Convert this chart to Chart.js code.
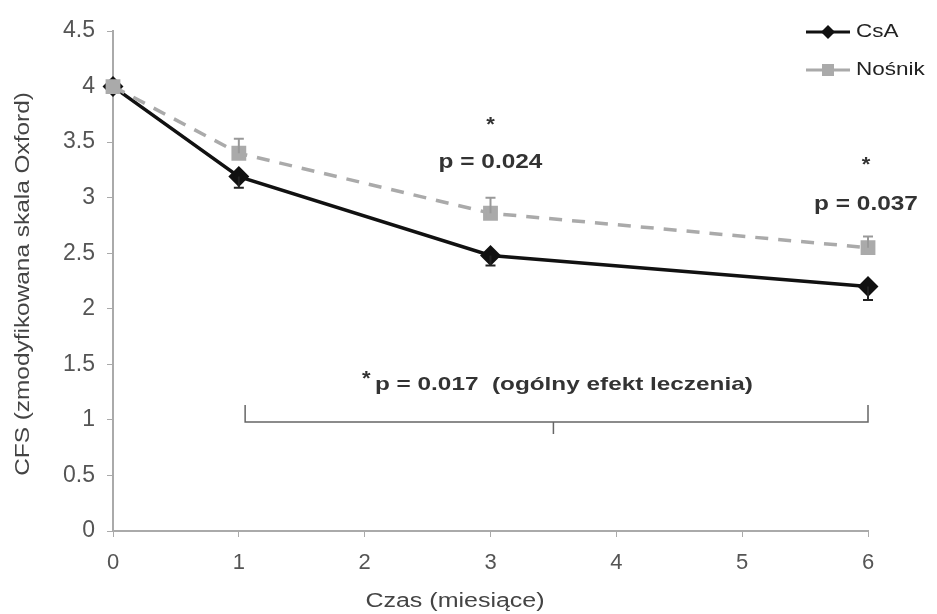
<!DOCTYPE html>
<html>
<head>
<meta charset="utf-8">
<script src="https://cdn.jsdelivr.net/npm/chart.js@4"></script>
<style>
  body { margin: 0; background: #fff; }
  #wrap { width: 937px; height: 614px; }
</style>
</head>
<body>
<div id="wrap"><canvas id="cfsChart" width="937" height="614"></canvas></div>
<script>
const months = [0, 1, 3, 6];
const csaValues = [4.0, 3.19, 2.48, 2.2];
const csaErrDown = [0, 0.1, 0.09, 0.12];
const vehicleValues = [4.0, 3.4, 2.86, 2.55];
const vehicleErrUp = [0, 0.13, 0.14, 0.1];
const yTicks = [0, 0.5, 1, 1.5, 2, 2.5, 3, 3.5, 4, 4.5];

const FONT = "'Liberation Sans', Arial, sans-serif";

// text drawn a bit wider, like the scanned original
function wideText(ctx, str, x, y, font, align, sx) {
  ctx.save();
  ctx.font = font;
  ctx.textAlign = align;
  ctx.translate(x, y);
  ctx.scale(sx, 1);
  ctx.fillText(str, 0, 0);
  ctx.restore();
}

// error bars: CsA downwards, vehicle upwards
const errorBars = {
  id: "errorBars",
  afterDatasetsDraw(chart) {
    const { ctx, scales: { x, y } } = chart;
    ctx.save();
    const bars = [
      { vals: vehicleValues, err: vehicleErrUp, dir: 1, color: "#999" },
      { vals: csaValues, err: csaErrDown, dir: -1, color: "#222" }
    ];
    bars.forEach(b => {
      ctx.strokeStyle = b.color;
      ctx.lineWidth = 2;
      months.forEach((m, i) => {
        if (!b.err[i]) return;
        const px = x.getPixelForValue(m);
        const p0 = y.getPixelForValue(b.vals[i]);
        const p1 = y.getPixelForValue(b.vals[i] + b.dir * b.err[i]);
        ctx.beginPath();
        ctx.moveTo(px, p0);
        ctx.lineTo(px, p1);
        ctx.moveTo(px - 5, p1);
        ctx.lineTo(px + 5, p1);
        ctx.stroke();
      });
    });
    ctx.restore();
  }
};

// texts, bracket, legend
const extras = {
  id: "extras",
  afterDraw(chart) {
    const { ctx, scales: { x, y } } = chart;
    ctx.save();
    ctx.textBaseline = "middle";

    // axis titles
    ctx.fillStyle = "#444";
    wideText(ctx, "Czas (miesiące)", 455, 601, "20px " + FONT, "center", 1.25);
    ctx.save();
    ctx.translate(23, 284);
    ctx.rotate(-Math.PI / 2);
    wideText(ctx, "CFS (zmodyfikowana skala Oxford)", 0, 0, "20px " + FONT, "center", 1.22);
    ctx.restore();

    // p values
    ctx.fillStyle = "#333";
    const bold = "bold 20px " + FONT;
    wideText(ctx, "*", x.getPixelForValue(3), 125, bold, "center", 1.1);
    wideText(ctx, "p = 0.024", x.getPixelForValue(3), 162, bold, "center", 1.22);
    wideText(ctx, "*", x.getPixelForValue(6) - 2, 165, bold, "center", 1.1);
    wideText(ctx, "p = 0.037", x.getPixelForValue(6) - 2, 204, bold, "center", 1.22);

    wideText(ctx, "*", 362, 379, bold, "left", 1.1);
    wideText(ctx, "p = 0.017  (ogólny efekt leczenia)", 375, 385, "bold 19px " + FONT, "left", 1.28);

    // bracket
    const bx0 = x.getPixelForValue(1.05), bx1 = x.getPixelForValue(6);
    const bm = x.getPixelForValue(3.5), by = 422;
    ctx.strokeStyle = "#666";
    ctx.lineWidth = 1.5;
    ctx.beginPath();
    ctx.moveTo(bx0, by - 17); ctx.lineTo(bx0, by); ctx.lineTo(bx1, by); ctx.lineTo(bx1, by - 17);
    ctx.moveTo(bm, by); ctx.lineTo(bm, by + 12);
    ctx.stroke();

    // legend
    const items = [
      { label: "CsA", y: 32, ds: chart.data.datasets[0] },
      { label: "Nośnik", y: 70, ds: chart.data.datasets[1] }
    ];
    items.forEach(it => {
      ctx.strokeStyle = it.ds.borderColor;
      ctx.lineWidth = 3;
      ctx.setLineDash([]);
      ctx.beginPath();
      ctx.moveTo(806, it.y); ctx.lineTo(850, it.y);
      ctx.stroke();
      ctx.fillStyle = it.ds.pointBackgroundColor;
      ctx.beginPath();
      if (it.ds.pointStyle === "rectRot") {
        ctx.moveTo(828, it.y - 7); ctx.lineTo(835, it.y); ctx.lineTo(828, it.y + 7); ctx.lineTo(821, it.y);
        ctx.closePath();
      } else {
        ctx.rect(822, it.y - 6, 12, 12);
      }
      ctx.fill();
      ctx.fillStyle = "#222";
      wideText(ctx, it.label, 856, it.y, "18px " + FONT, "left", 1.25);
    });
    ctx.restore();
  }
};

new Chart(document.getElementById("cfsChart"), {
  type: "line",
  data: {
    datasets: [
      {
        label: "CsA",
        data: months.map((m, i) => ({ x: m, y: csaValues[i] })),
        borderColor: "#111",
        borderWidth: 3.5,
        pointStyle: "rectRot",
        pointRadius: 8,
        pointBackgroundColor: "#111",
        pointBorderColor: "#111",
        tension: 0,
        clip: false,
        order: 1
      },
      {
        label: "Nośnik",
        data: months.map((m, i) => ({ x: m, y: vehicleValues[i] })),
        borderColor: "#aaa",
        borderWidth: 3.5,
        borderDash: [13, 10],
        pointStyle: "rect",
        pointRadius: 8,
        pointBackgroundColor: "#aaa",
        pointBorderColor: "#aaa",
        tension: 0,
        clip: false,
        order: 0
      }
    ]
  },
  options: {
    responsive: false,
    animation: false,
    layout: { padding: { top: 31, right: 69, left: 0, bottom: 0 } },
    plugins: { legend: { display: false }, tooltip: { enabled: false } },
    scales: {
      x: {
        type: "linear",
        min: 0, max: 6,
        afterFit(s) { s.height = 83; },
        ticks: { stepSize: 1, padding: 13, color: "#555", font: { size: 22, family: FONT } },
        grid: { drawOnChartArea: false, color: "#aaa", tickLength: 6 },
        border: { color: "#aaa", width: 2 }
      },
      y: {
        min: 0, max: 4.5,
        afterFit(s) { s.width = 113; },
        afterBuildTicks(s) { s.ticks = yTicks.map(v => ({ value: v })); },
        ticks: { padding: 12, color: "#555", font: { size: 23, family: FONT }, callback: v => String(v) },
        grid: { drawOnChartArea: false, color: "#aaa", tickLength: 6 },
        border: { color: "#aaa", width: 2 }
      }
    }
  },
  plugins: [errorBars, extras]
});
</script>
</body>
</html>
